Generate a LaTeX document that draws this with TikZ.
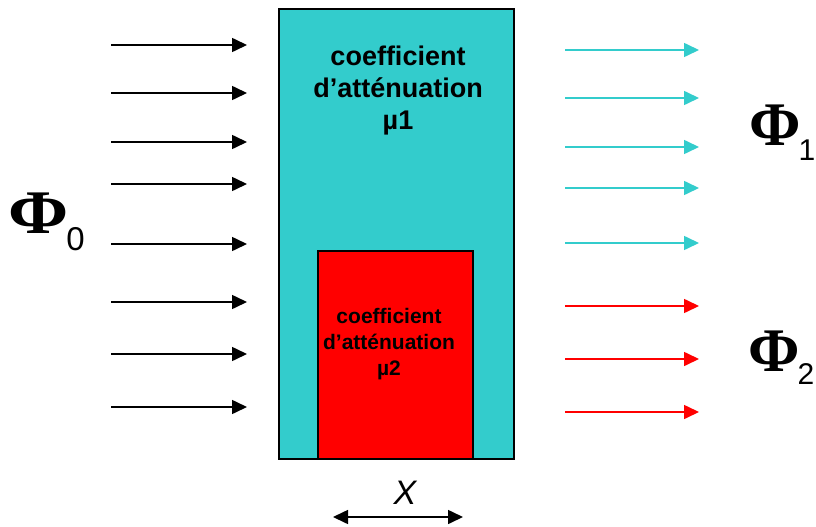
\documentclass[tikz,border=0pt]{standalone}
\usepackage{fontspec}
\setmainfont{Liberation Sans}
\newfontfamily\phifont{Liberation Serif}
\usetikzlibrary{arrows.meta, positioning}

\definecolor{bleu}{RGB}{51,204,204}
\definecolor{rouge}{RGB}{255,0,0}

\newcommand{\indice}[2]{\hspace{-2pt}\raisebox{#1}{\normalfont\fontsize{30}{30}\selectfont #2}}

\begin{document}
\begin{tikzpicture}[x=1pt, y=-1pt, >={Triangle[length=15pt, width=14pt]},
    flux/.style={->, line width=1.6pt},
    milieu/.style={draw, line width=2pt, anchor=north west, inner sep=0pt},
    phi/.style={font=\phifont\bfseries\fontsize{62}{62}\selectfont, inner sep=0pt, anchor=base west}]
    \useasboundingbox (0,0) rectangle (816,527);

    % les deux milieux
    \node[milieu, fill=bleu, minimum width=235pt, minimum height=450pt] (mu1) at (278,8) {};
    \node[milieu, fill=rouge, minimum width=155pt, minimum height=208pt] (mu2) at (317,250) {};
    \node[align=center, font=\bfseries\fontsize{27}{32}\selectfont] (txt1) at (398,91) {coefficient\\d’atténuation\\µ1};
    \node[align=center, font=\bfseries\fontsize{21}{26}\selectfont] (txt2) at (389,344) {coefficient\\d’atténuation\\µ2};

    % flux incident
    \foreach \y [count=\i] in {45,93,142,184,244,302,354,407} {
        \coordinate (in\i) at (111,\y);
        \coordinate (out\i) at (247,\y);
        \draw[flux] (in\i) -- (out\i);
    }
    % flux transmis
    \foreach \y/\c [count=\i] in {50/bleu,98/bleu,147/bleu,188/bleu,243/bleu,306/rouge,359/rouge,412/rouge} {
        \coordinate (a\i) at (565,\y);
        \coordinate (b\i) at (699,\y);
        \draw[flux, \c] (a\i) -- (b\i);
    }

    \node[phi] (phi0) at (8,233) {\scalebox{1.17}[1]{Φ}\indice{-17pt}{\fontsize{33}{33}\selectfont 0}};
    \node[phi] (phi1) at (749,145) {Φ\indice{-15pt}{1}};
    \node[phi] (phi2) at (748,371) {Φ\indice{-13pt}{2}};

    % epaisseur
    \node[font=\itshape\fontsize{34}{34}\selectfont, inner sep=0pt] (X) at (405,493) {X};
    \coordinate (xg) at (333,517);
    \coordinate (xd) at (463,517);
    \draw[<->, line width=1.6pt] (xg) -- (xd);
\end{tikzpicture}
\end{document}
